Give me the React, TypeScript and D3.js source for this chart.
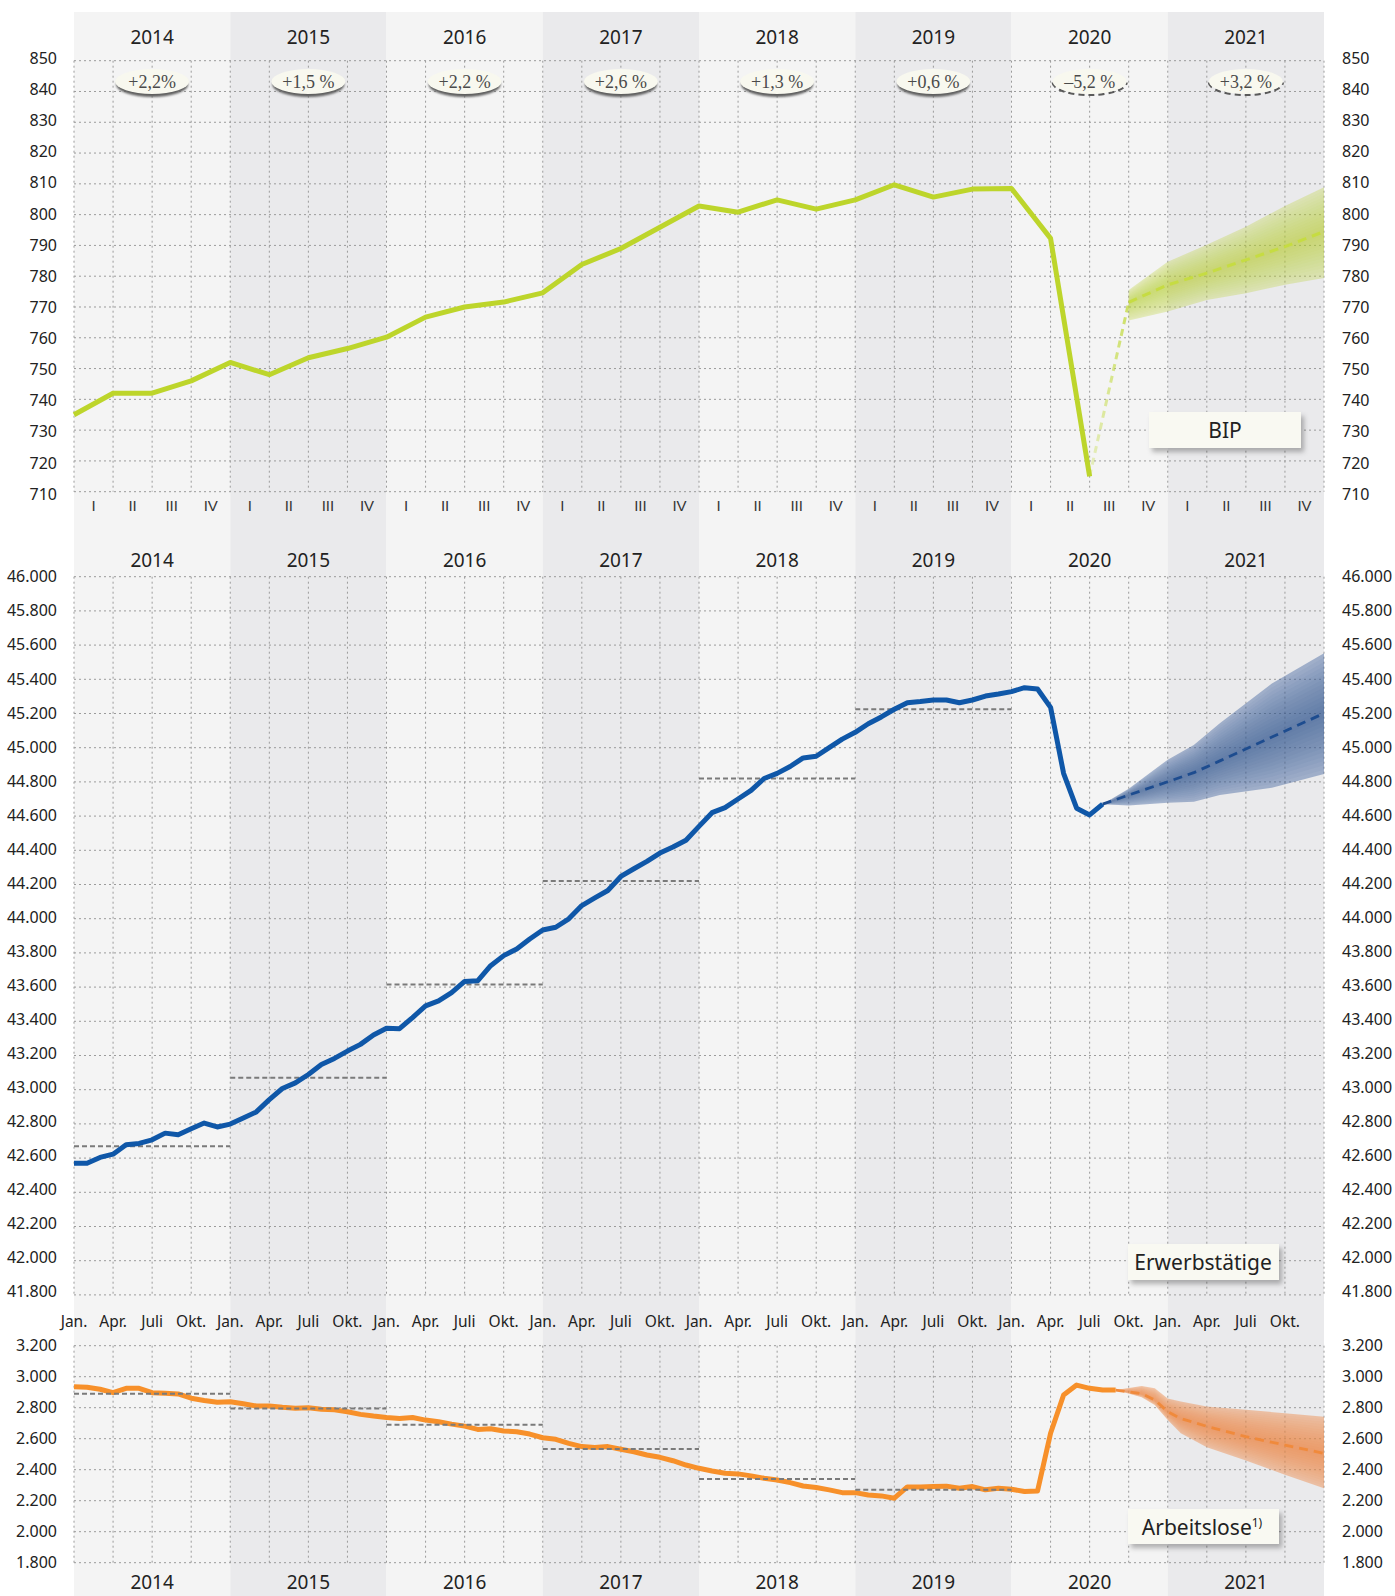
import * as d3 from 'd3';

const years = ['2014', '2015', '2016', '2017', '2018', '2019', '2020', '2021'];
const growthLabels = ['+2,2%', '+1,5 %', '+2,2 %', '+2,6 %', '+1,3 %', '+0,6 %', '–5,2 %', '+3,2 %'];
const growthIsForecast = [false, false, false, false, false, false, true, true];
const quarterLabels = ['I', 'II', 'III', 'IV'];
const monthLabels = ['Jan.', 'Apr.', 'Juli', 'Okt.'];

const bipTicks = [710, 720, 730, 740, 750, 760, 770, 780, 790, 800, 810, 820, 830, 840, 850];
const empTicks = [41800, 42000, 42200, 42400, 42600, 42800, 43000, 43200, 43400, 43600, 43800, 44000,
  44200, 44400, 44600, 44800, 45000, 45200, 45400, 45600, 45800, 46000];
const unempTicks = [1800, 2000, 2200, 2400, 2600, 2800, 3000, 3200];

// BIP, quarterly (index 0 = left edge)
const bipActual = [735, 742, 742, 746, 752, 748, 753.5, 756.5, 760.2, 766.7, 770, 771.6, 774.6, 783.8,
  789, 795.9, 802.8, 800.8, 804.8, 801.8, 804.8, 809.7, 805.7, 808.3, 808.5, 792.3, 715];
const bipFcIdx = [27, 28, 29, 30, 31, 32];
const bipFcMid = [771.5, 777.2, 781, 785.3, 789.6, 794.5];
const bipFcUpper = [775.5, 784.7, 790.2, 796.1, 802.8, 808.9];
const bipFcLower = [765.6, 768.5, 772.3, 774.5, 777.2, 779.4];

// Erwerbstätige, monthly (Tsd.)
const empActual = [
  42570, 42570, 42604, 42623, 42678, 42686, 42707, 42746, 42736, 42772, 42805, 42782,
  42799, 42834, 42870, 42942, 43007, 43040, 43089, 43147, 43183, 43226, 43265, 43320,
  43359, 43357, 43422, 43490, 43519, 43568, 43633, 43637, 43725, 43784, 43823, 43881,
  43934, 43950, 43999, 44077, 44122, 44165, 44247, 44292, 44335, 44384, 44419, 44459,
  44540, 44620, 44650, 44700, 44750, 44820, 44850, 44890, 44940, 44950, 45000, 45050,
  45090, 45140, 45180, 45225, 45263, 45270, 45279, 45279, 45263, 45279, 45302, 45314,
  45328, 45351, 45343, 45236, 44850, 44646, 44607, 44670];
const empFcMonths = [79, 81, 84, 86, 88, 92, 96];
const empFcMid = [44670, 44723, 44801, 44854, 44923, 45062, 45201];
const empFcUpper = [44670, 44760, 44930, 45016, 45143, 45375, 45552];
const empFcLower = [44670, 44662, 44678, 44684, 44723, 44766, 44846];
const empAvg = [42670, 43070, 43615, 44220, 44820, 45225];

// Arbeitslose, monthly (Tsd.)
const unempActual = [
  2935, 2932, 2919, 2897, 2925, 2925, 2897, 2893, 2889, 2861, 2846, 2835,
  2839, 2826, 2811, 2811, 2803, 2797, 2799, 2790, 2786, 2774, 2757, 2746,
  2737, 2731, 2737, 2720, 2709, 2694, 2681, 2660, 2664, 2650, 2645, 2630,
  2606, 2596, 2570, 2549, 2544, 2549, 2532, 2516, 2495, 2480, 2458, 2430,
  2409, 2392, 2377, 2373, 2360, 2345, 2334, 2317, 2295, 2285, 2270, 2252,
  2252, 2237, 2231, 2216, 2289, 2289, 2291, 2294, 2280, 2291, 2270, 2280,
  2274, 2259, 2263, 2635, 2882, 2946, 2925, 2914, 2914];
const unempFcMonths = [80, 82, 83, 84, 85, 87, 90, 93, 96];
const unempFcMid = [2914, 2890, 2850, 2774, 2730, 2680, 2613, 2559, 2505];
const unempFcUpper = [2914, 2940, 2925, 2860, 2840, 2808, 2786, 2765, 2742];
const unempFcLower = [2914, 2868, 2817, 2720, 2635, 2545, 2460, 2368, 2280];
const unempAvg = [2890, 2795, 2690, 2533, 2340, 2270];

const W = 1395;
const H = 1596;
const L = 74;
const R = 1324;
const SANS = "'Noto Sans', sans-serif";
const SERIF = "'Liberation Serif', serif";
const TXT = '#222';

const de = d3.formatLocale({ decimal: ',', thousands: '.', grouping: [3], currency: ['', ' €'] });
const fmt = de.format(',');

const xYear = d3.scaleBand().domain(years).range([L, R]);
const xQ = d3.scaleLinear().domain([0, 32]).range([L, R]);
const xM = d3.scaleLinear().domain([0, 96]).range([L, R]);
const y1 = d3.scaleLinear().domain([710, 850]).range([491.7, 60.7]);
const y2 = d3.scaleLinear().domain([41800, 46000]).range([1294.9, 576.7]);
const y3 = d3.scaleLinear().domain([1800, 3200]).range([1562.7, 1345.7]);
// tick label centres sit slightly off the gridlines in the original
const y1Lab = d3.scaleLinear().domain([710, 850]).range([494, 58.3]);
const y2Lab = d3.scaleLinear().domain([41800, 46000]).range([1291.5, 576.7]);
const y3Lab = d3.scaleLinear().domain([1800, 3200]).range([1562.7, 1345.7]);

type Lin = d3.ScaleLinear<number, number>;

function Grid({ y, yLab, ticks }: { y: Lin; yLab: Lin; ticks: number[] }) {
  const [lo, hi] = y.range();
  const vlines = d3.range(0, 33);
  return (
    <g>
      {ticks.map(t => (
        <line key={'h' + t} x1={L} x2={R} y1={y(t)} y2={y(t)} stroke="#9b9b9b" strokeWidth={1} strokeDasharray="2,3" />
      ))}
      {vlines.map(i => (
        <line key={'v' + i} x1={xQ(i)} x2={xQ(i)} y1={hi} y2={lo} stroke="#9b9b9b" strokeWidth={1} strokeDasharray="2,3" />
      ))}
      {ticks.map(t => (
        <g key={'t' + t} fontFamily={SANS} fontSize={16} fill={TXT}>
          <text x={57} y={yLab(t) + 5.7} textAnchor="end">{fmt(t)}</text>
          <text x={1342} y={yLab(t) + 5.7}>{fmt(t)}</text>
        </g>
      ))}
    </g>
  );
}

function Band({ xs, mid, up, lo, x, y, color, edge, inner, n }:
  { xs: number[]; mid: number[]; up: number[]; lo: number[]; x: Lin; y: Lin; color: string; edge: number; inner: number; n: number }) {
  const layers = d3.range(n, 0, -1).map(k => k / n);
  return (
    <g>
      {layers.map((f, li) => {
        const area = d3.area<number>()
          .x(i => x(xs[i]))
          .y0(i => y(mid[i] + (lo[i] - mid[i]) * f))
          .y1(i => y(mid[i] + (up[i] - mid[i]) * f));
        return <path key={li} d={area(d3.range(xs.length)) || ''} fill={color} fillOpacity={li === 0 ? edge : inner} />;
      })}
    </g>
  );
}

function LabelBox({ x, y, w, h, children }: { x: number; y: number; w: number; h: number; children: any }) {
  return (
    <g>
      <rect x={x} y={y} width={w} height={h} fill="#f9f9f2" filter="url(#boxShadow)" />
      {children}
    </g>
  );
}

export default function App() {
  const bipLine = d3.line<number>().x((_, i) => xQ(i)).y(d => y1(d));
  const bipFcLine = d3.line<number>().x((_, i) => xQ(bipFcIdx[i])).y(d => y1(d));
  const empLine = d3.line<number>().x((_, i) => xM(i)).y(d => y2(d));
  const empFcLine = d3.line<number>().x((_, i) => xM(empFcMonths[i])).y(d => y2(d));
  const unempLine = d3.line<number>().x((_, i) => xM(i)).y(d => y3(d));
  const unempFcLine = d3.line<number>().x((_, i) => xM(unempFcMonths[i])).y(d => y3(d));
  const bw = xYear.bandwidth();
  const last = bipActual.length - 1;

  return (
    <svg width={W} height={H} viewBox={`0 0 ${W} ${H}`} style={{ position: 'absolute', left: 0, top: 0, background: '#fff' }}>
      <defs>
        <filter id="boxShadow" x="-10%" y="-20%" width="130%" height="160%">
          <feDropShadow dx={3} dy={4} stdDeviation={2.5} floodColor="#000" floodOpacity={0.28} />
        </filter>
        <filter id="ellBlur" x="-20%" y="-50%" width="140%" height="200%">
          <feGaussianBlur stdDeviation={0.9} />
        </filter>
        <linearGradient id="bipJoin" x1="0" y1="1" x2="0" y2="0">
          <stop offset="0" stopColor="#c5dc4a" stopOpacity={0.3} />
          <stop offset="1" stopColor="#c5dc4a" stopOpacity={0.85} />
        </linearGradient>
      </defs>

      {/* year columns */}
      {years.map((yr, i) => (
        <rect key={yr} x={xYear(yr)} y={12} width={bw} height={H - 12} fill={i % 2 === 0 ? '#f4f4f4' : '#eaeaec'} />
      ))}

      <Grid y={y1} yLab={y1Lab} ticks={bipTicks} />
      <Grid y={y2} yLab={y2Lab} ticks={empTicks} />
      <Grid y={y3} yLab={y3Lab} ticks={unempTicks} />

      {/* year labels */}
      {[43.5, 566.5, 1589].map(by => (
        <g key={by}>
          {years.map(yr => (
            <text key={yr} x={(xYear(yr) || 0) + bw / 2} y={by} textAnchor="middle" fontFamily={SANS} fontSize={19} fill={TXT}>{yr}</text>
          ))}
        </g>
      ))}

      {/* quarter labels */}
      {d3.range(0, 32).map(q => (
        <text key={q} x={xQ(q + 0.5)} y={510.5} textAnchor="middle" fontFamily="'Liberation Sans', sans-serif" fontSize={15} fill="#333">{quarterLabels[q % 4]}</text>
      ))}

      {/* month labels */}
      {d3.range(0, 32).map(q => (
        <text key={q} x={xM(q * 3)} y={1326.5} textAnchor="middle" fontFamily={SANS} fontSize={15.5} fill={TXT}>{monthLabels[q % 4]}</text>
      ))}

      {/* growth ellipses */}
      {years.map((yr, i) => {
        const cx = (xYear(yr) || 0) + bw / 2;
        const cy = 81.5;
        const rx = 37;
        const ry = 12.5;
        return (
          <g key={yr}>
            {growthIsForecast[i] ? (
              <path d={`M${cx - rx},${cy + 1} A${rx},${ry} 0 0 0 ${cx + rx},${cy + 1}`} fill="none" stroke="#5a5a5a" strokeWidth={2.2} strokeDasharray="6,4" />
            ) : (
              <ellipse cx={cx} cy={cy + 3} rx={rx - 1} ry={ry} fill="#5e5e5e" filter="url(#ellBlur)" />
            )}
            <ellipse cx={cx} cy={cy} rx={rx} ry={ry} fill="#f8f8ef" />
            <text x={cx} y={87.5} textAnchor="middle" fontFamily={SERIF} fontSize={18} fill="#4a4a4a">{growthLabels[i]}</text>
          </g>
        );
      })}

      {/* BIP */}
      <Band xs={bipFcIdx} mid={bipFcMid} up={bipFcUpper} lo={bipFcLower} x={xQ} y={y1} color="#b8d12e" edge={0.3} inner={0.045} n={14} />
      <line x1={xQ(last)} y1={y1(bipActual[last])} x2={xQ(bipFcIdx[0])} y2={y1(bipFcMid[0])} stroke="url(#bipJoin)" strokeWidth={3} strokeDasharray="7,5" />
      <path d={bipFcLine(bipFcMid) || ''} fill="none" stroke="#c6dc42" strokeWidth={3} strokeDasharray="9,6" />
      <path d={bipLine(bipActual) || ''} fill="none" stroke="#bdd52b" strokeWidth={5} strokeLinejoin="round" />

      {/* Erwerbstätige */}
      {empAvg.map((v, i) => (
        <line key={i} x1={xYear(years[i])} x2={(xYear(years[i]) || 0) + bw} y1={y2(v)} y2={y2(v)} stroke="#7a7a7a" strokeWidth={2} strokeDasharray="5,3" />
      ))}
      <Band xs={empFcMonths} mid={empFcMid} up={empFcUpper} lo={empFcLower} x={xM} y={y2} color="#2f5596" edge={0.4} inner={0.055} n={14} />
      <path d={empFcLine(empFcMid) || ''} fill="none" stroke="#1d4c8f" strokeWidth={2.8} strokeDasharray="9,6" />
      <path d={empLine(empActual) || ''} fill="none" stroke="#0f57a8" strokeWidth={5} strokeLinejoin="round" />

      {/* Arbeitslose */}
      <Band xs={unempFcMonths} mid={unempFcMid} up={unempFcUpper} lo={unempFcLower} x={xM} y={y3} color="#ee8a4a" edge={0.45} inner={0.058} n={14} />
      <path d={unempFcLine(unempFcMid) || ''} fill="none" stroke="#f08a3c" strokeWidth={2.8} strokeDasharray="9,6" />
      <path d={unempLine(unempActual) || ''} fill="none" stroke="#f7902a" strokeWidth={5} strokeLinejoin="round" />
      {unempAvg.map((v, i) => (
        <line key={i} x1={xYear(years[i])} x2={(xYear(years[i]) || 0) + bw} y1={y3(v)} y2={y3(v)} stroke="#7a7a7a" strokeWidth={2} strokeDasharray="5,3" />
      ))}

      {/* series labels */}
      <LabelBox x={1149} y={412} w={152} h={36}>
        <text x={1225} y={438} textAnchor="middle" fontFamily={SANS} fontSize={21} fill={TXT}>BIP</text>
      </LabelBox>
      <LabelBox x={1128} y={1244} w={151} h={36}>
        <text x={1203} y={1270} textAnchor="middle" fontFamily={SANS} fontSize={21} fill={TXT}>Erwerbstätige</text>
      </LabelBox>
      <LabelBox x={1128} y={1509} w={151} h={35}>
        <text x={1202} y={1535} textAnchor="middle" fontFamily={SANS} fontSize={21} fill={TXT}>
          Arbeitslose<tspan dy={-8} fontSize={12}>1)</tspan>
        </text>
      </LabelBox>
    </svg>
  );
}
